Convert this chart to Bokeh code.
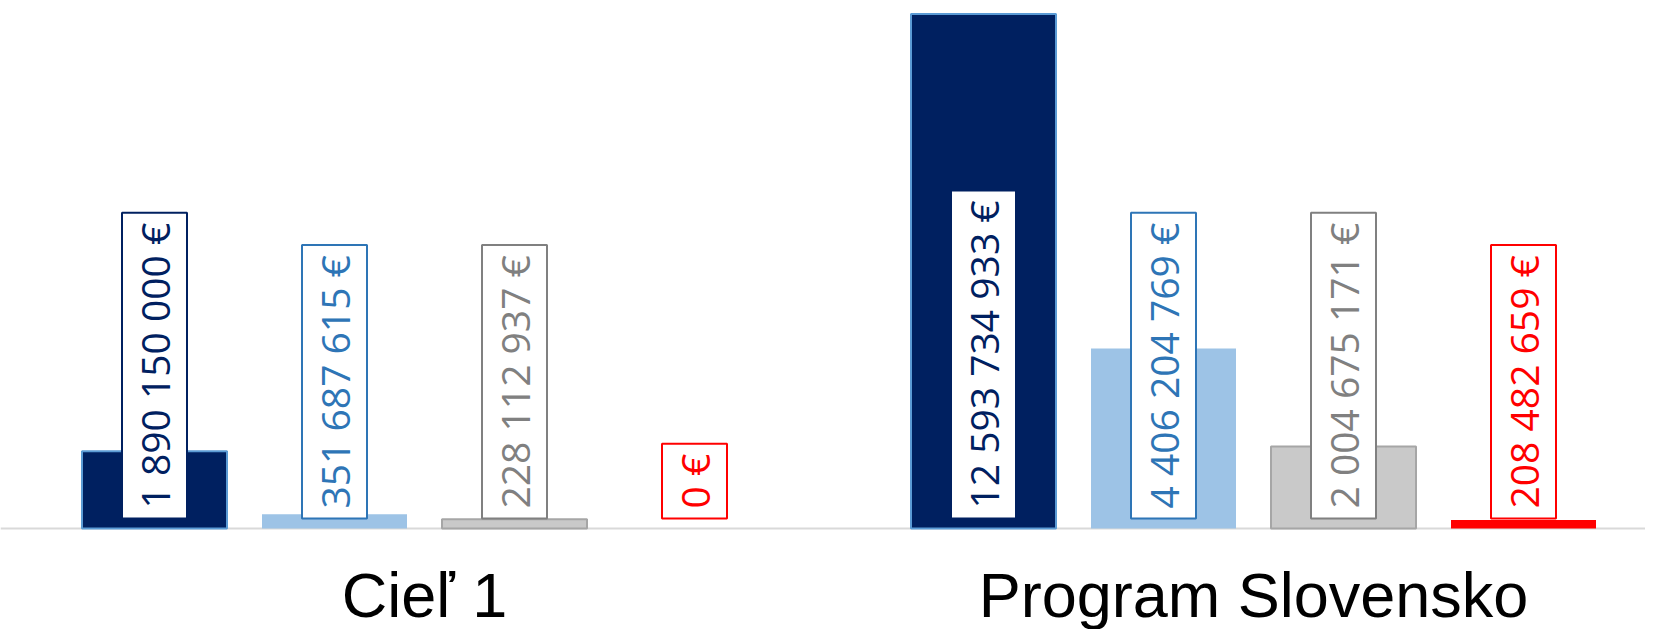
import math
from bokeh.plotting import figure
from bokeh.models import Range1d, Span, ColumnDataSource
from bokeh.core.properties import value
from bokeh.embed import file_html
from bokeh.resources import INLINE

# ---- data ----
categories = ["Cieľ 1", "Program Slovensko"]
values_navy = [1890150000, 12593734933]
values_lightblue = [351687615, 4406204769]
values_gray = [228112937, 2004675171]
values_red = [0, 208482659]

series_values = [values_navy, values_lightblue, values_gray, values_red]
fill_colors = ["#002060", "#9DC3E6", "#C9C9C9", "#FF0000"]
line_colors = ["#5B9BD5", "#9DC3E6", "#A6A6A6", "#FF0000"]
line_widths = [2, 0, 2, 0]
label_colors = ["#002060", "#2E75B6", "#808080", "#FF0000"]

def fmt(v):
    return f"{v:,}".replace(",", " ") + " €"

# ---- layout constants ----
px_per_cat = 829.0
step = 180.0 / px_per_cat
bar_w = 145.0 / px_per_cat
px_per_bn = 40.85
W, H = 1645, 629
base_px = 528.0      # baseline distance from top
first_center = 424.0 # first category centre from left

p = figure(width=W, height=H, output_backend="svg", toolbar_location=None,
           x_range=Range1d(-first_center / px_per_cat, (W - first_center) / px_per_cat),
           y_range=Range1d(-(H - base_px) / px_per_bn * 1e9, base_px / px_per_bn * 1e9),
           min_border=0)
p.axis.visible = False
p.grid.visible = False
p.outline_line_color = None
p.background_fill_color = "white"
p.border_fill_color = "white"

baseline = Span(location=0, dimension="width", line_color="#D9D9D9",
                line_width=2, level="underlay")
p.add_layout(baseline)

for i, vals in enumerate(series_values):
    off = (i - 1.5) * step
    xs = [g + off for g in range(len(categories))]
    src = ColumnDataSource(dict(x=xs, top=vals, label=[fmt(v) for v in vals]))
    if line_widths[i] > 0:
        p.vbar(x="x", top="top", bottom=0, width=bar_w, source=src,
               fill_color=fill_colors[i], line_color=line_colors[i],
               line_width=line_widths[i])
    else:
        p.vbar(x="x", top="top", bottom=0, width=bar_w, source=src,
               fill_color=fill_colors[i], line_color=None)
    p.text(x="x", y=0, text="label", source=src, angle=math.pi / 2,
           text_align="left", text_baseline="middle",
           text_font=value("Open Sans"), text_font_size="39px",
           text_color=label_colors[i],
           background_fill_color="white",
           border_line_color=label_colors[i], border_line_width=2,
           padding=dict(left=10, right=10, top=6, bottom=6),
           y_offset=-10)

cat_src = ColumnDataSource(dict(x=list(range(len(categories))), text=categories))
p.text(x="x", y=0, text="text", source=cat_src, text_align="center",
       text_baseline="alphabetic", text_font=value("Liberation Sans"),
       text_font_size="63px", text_color="black", y_offset=66)

open("out.html", "w").write(file_html(p, INLINE))
